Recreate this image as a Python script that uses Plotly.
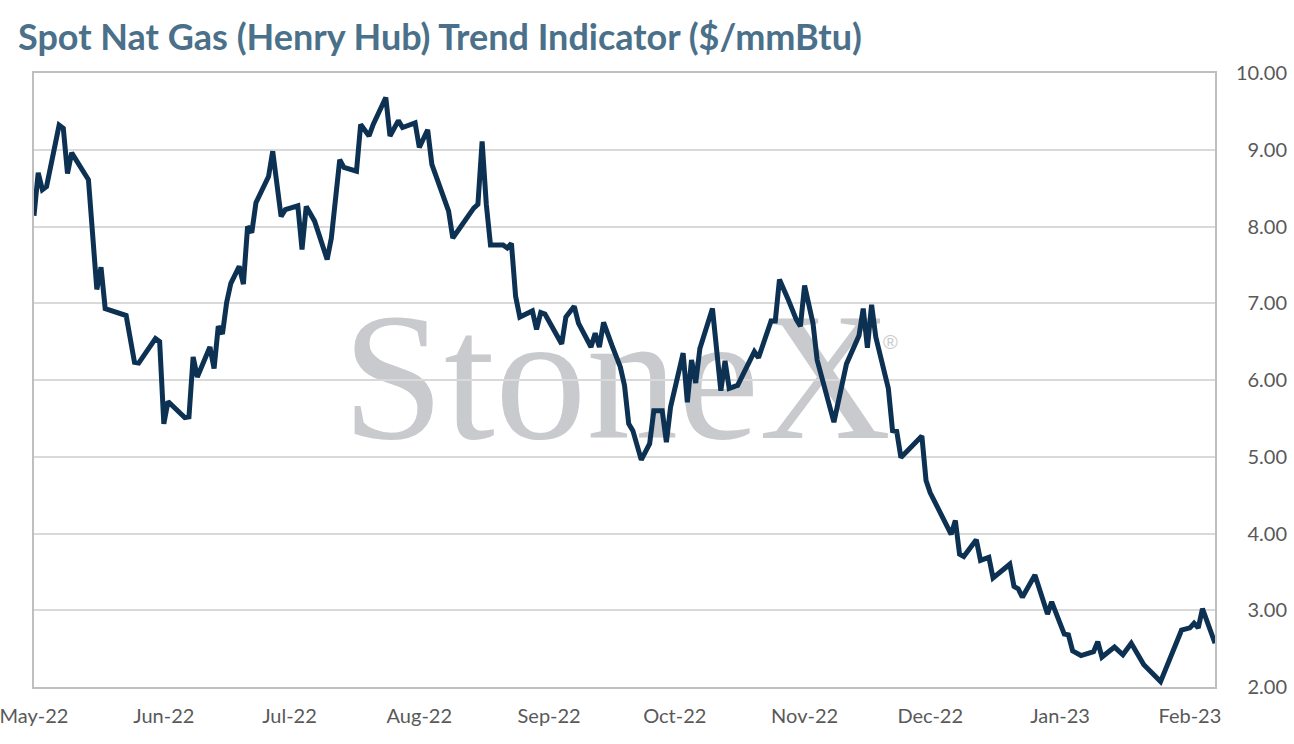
import plotly.graph_objects as go

# Spot Henry Hub trend indicator
dates = [
    "2022-05-01", "2022-05-02", "2022-05-03", "2022-05-04", "2022-05-07", "2022-05-08",
    "2022-05-09", "2022-05-10", "2022-05-14", "2022-05-16", "2022-05-17", "2022-05-18",
    "2022-05-23", "2022-05-25", "2022-05-26", "2022-05-30", "2022-05-31", "2022-06-01",
    "2022-06-02", "2022-06-06", "2022-06-07", "2022-06-08", "2022-06-09", "2022-06-12",
    "2022-06-13", "2022-06-14", "2022-06-15", "2022-06-16", "2022-06-17", "2022-06-19",
    "2022-06-20", "2022-06-21", "2022-06-22", "2022-06-23", "2022-06-26", "2022-06-27",
    "2022-06-29", "2022-06-30", "2022-07-03", "2022-07-04", "2022-07-05", "2022-07-07",
    "2022-07-10", "2022-07-11", "2022-07-13", "2022-07-14", "2022-07-17", "2022-07-18",
    "2022-07-20", "2022-07-21", "2022-07-24", "2022-07-25", "2022-07-27", "2022-07-28",
    "2022-07-31", "2022-08-01", "2022-08-03", "2022-08-04", "2022-08-08", "2022-08-09",
    "2022-08-14", "2022-08-15", "2022-08-16", "2022-08-17", "2022-08-18", "2022-08-21",
    "2022-08-22", "2022-08-23", "2022-08-24", "2022-08-25", "2022-08-28", "2022-08-29",
    "2022-08-30", "2022-08-31", "2022-09-04", "2022-09-05", "2022-09-07", "2022-09-08",
    "2022-09-11", "2022-09-12", "2022-09-13", "2022-09-14", "2022-09-16", "2022-09-18",
    "2022-09-19", "2022-09-20", "2022-09-21", "2022-09-23", "2022-09-25", "2022-09-26",
    "2022-09-28", "2022-09-29", "2022-09-30", "2022-10-03", "2022-10-04", "2022-10-05",
    "2022-10-06", "2022-10-07", "2022-10-10", "2022-10-12", "2022-10-13", "2022-10-14",
    "2022-10-16", "2022-10-20", "2022-10-21", "2022-10-24", "2022-10-25", "2022-10-26",
    "2022-10-28", "2022-10-30", "2022-10-31", "2022-11-01", "2022-11-03", "2022-11-04",
    "2022-11-08", "2022-11-11", "2022-11-14", "2022-11-15", "2022-11-16", "2022-11-17",
    "2022-11-18", "2022-11-21", "2022-11-22", "2022-11-23", "2022-11-24", "2022-11-29",
    "2022-11-30", "2022-12-01", "2022-12-06", "2022-12-07", "2022-12-08", "2022-12-09",
    "2022-12-12", "2022-12-13", "2022-12-15", "2022-12-16", "2022-12-20", "2022-12-21",
    "2022-12-22", "2022-12-23", "2022-12-26", "2022-12-29", "2022-12-30", "2023-01-02",
    "2023-01-03", "2023-01-04", "2023-01-06", "2023-01-09", "2023-01-10", "2023-01-11",
    "2023-01-14", "2023-01-16", "2023-01-18", "2023-01-21", "2023-01-25", "2023-01-28",
    "2023-01-30", "2023-02-01", "2023-02-02", "2023-02-03", "2023-02-04", "2023-02-07",
]

prices = [
    8.14, 8.70, 8.48, 8.52, 9.32, 9.28,
    8.69, 8.96, 8.61, 7.18, 7.47, 6.93,
    6.84, 6.23, 6.22, 6.54, 6.50, 5.43,
    5.72, 5.51, 5.52, 6.30, 6.04, 6.43,
    6.15, 6.70, 6.60, 7.01, 7.26, 7.48,
    7.25, 8.00, 7.92, 8.31, 8.65, 8.98,
    8.13, 8.22, 8.27, 7.70, 8.26, 8.07,
    7.57, 7.85, 8.87, 8.77, 8.72, 9.33,
    9.18, 9.33, 9.68, 9.18, 9.38, 9.29,
    9.35, 9.03, 9.26, 8.81, 8.20, 7.85,
    8.24, 8.29, 9.11, 8.29, 7.76, 7.76,
    7.72, 7.78, 7.09, 6.82, 6.90, 6.66,
    6.88, 6.86, 6.47, 6.82, 6.96, 6.74,
    6.43, 6.61, 6.43, 6.75, 6.45, 6.17,
    5.93, 5.43, 5.34, 4.96, 5.17, 5.60,
    5.60, 5.19, 5.65, 6.35, 5.71, 6.26,
    5.96, 6.41, 6.93, 5.86, 6.25, 5.89,
    5.93, 6.37, 6.29, 6.77, 6.77, 7.31,
    7.06, 6.79, 6.70, 7.23, 6.74, 6.26,
    5.45, 6.21, 6.58, 6.93, 6.42, 6.98,
    6.56, 5.89, 5.34, 5.33, 4.99, 5.27,
    4.69, 4.53, 3.99, 4.17, 3.73, 3.70,
    3.92, 3.65, 3.69, 3.42, 3.60, 3.31,
    3.28, 3.17, 3.46, 2.95, 3.11, 2.69,
    2.68, 2.47, 2.41, 2.46, 2.59, 2.39,
    2.52, 2.42, 2.57, 2.29, 2.07, 2.48,
    2.74, 2.77, 2.83, 2.77, 3.02, 2.57,
]

x_range = ["2022-05-01", "2023-02-07"]
y_range = [2, 10]
# the label axis is a bit taller than the plot so the end labels (2.00 / 10.00) still show
y_pad = 0.1824
label_range = [y_range[0] - y_pad, y_range[1] + y_pad]

title_text = "Spot Nat Gas (Henry Hub) Trend Indicator ($/mmBtu)"

navy = "#0c3152"
tick_grey = "#595959"
mark_grey = "#c9cacd"

fig = go.Figure()
fig.add_trace(go.Scatter(
    x=dates, y=prices, mode="lines",
    line=dict(color=navy, width=5),
    showlegend=False, hoverinfo="x+y",
))
# invisible copy so the right-hand label axis gets drawn
fig.add_trace(go.Scatter(
    x=dates, y=prices, mode="lines", yaxis="y2",
    line=dict(color="rgba(0,0,0,0)", width=0),
    showlegend=False, hoverinfo="skip",
))

# StoneX watermark behind the line
fig.add_shape(
    type="rect", xref="paper", yref="paper",
    x0=0.140, x1=0.788, y0=0.337, y1=0.737,
    line=dict(width=0), fillcolor="rgba(0,0,0,0)", layer="between",
    label=dict(text="StoneX", textposition="middle center",
               font=dict(family="Liberation Serif", size=183, color=mark_grey)),
)
fig.add_annotation(
    text="®", xref="paper", yref="paper", x=0.6895, y=0.559,
    showarrow=False, font=dict(family="Arial", size=20, color=mark_grey),
)

fig.update_layout(
    width=1294, height=744,
    paper_bgcolor="white", plot_bgcolor="rgba(0,0,0,0)",
    margin=dict(l=34, r=4, t=59, b=43, autoexpand=False),
    title=dict(
        text=title_text, xref="container", yref="container",
        x=0.0139, xanchor="left", y=0.9503, yanchor="middle",
        font=dict(family="Lato", size=36, color="#4b7089", weight="bold"),
    ),
    xaxis=dict(
        type="date", range=x_range, domain=[0, 0.9403],
        dtick="M1", tick0="2022-05-01", tickformat="%b-%y",
        showgrid=False, zeroline=False, automargin=False,
        showline=True, mirror=True, linecolor="#bfbfbf", linewidth=1.5,
        ticks="", ticklabelstandoff=10, ticklabeloverflow="allow",
        tickfont=dict(family="Lato", size=20, color=tick_grey),
    ),
    yaxis=dict(
        range=y_range, dtick=1, showticklabels=False, automargin=False,
        domain=[0.02181, 0.97819],
        showgrid=True, gridcolor="#d9d9d9", gridwidth=1.5, zeroline=False,
        showline=True, mirror=True, linecolor="#bfbfbf", linewidth=1.5,
    ),
    yaxis2=dict(
        range=label_range, domain=[0, 1], tick0=2, dtick=1, tickformat=".2f",
        automargin=False, side="right", anchor="free", position=1.0,
        ticklabelposition="inside", ticklabelstandoff=0,
        showgrid=False, zeroline=False, showline=False, ticks="",
        tickfont=dict(family="Lato", size=20, color=tick_grey),
    ),
)

# drop the page's default body margin so the figure fills the window exactly
fig.write_html(
    "out.html",
    config={"displayModeBar": False},
    post_script="document.body.style.margin = '0';",
)
